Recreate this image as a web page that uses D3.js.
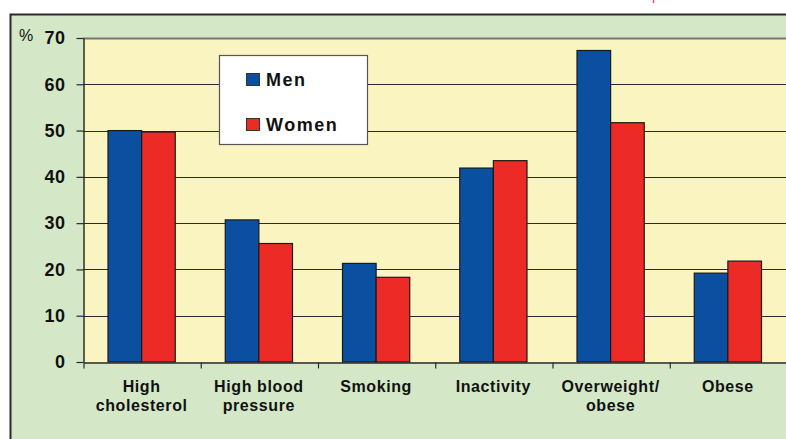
<!DOCTYPE html>
<html>
<head>
<meta charset="utf-8">
<script src="https://cdn.jsdelivr.net/npm/d3@7"></script>
<style>
  html, body { margin: 0; padding: 0; background: #ffffff; }
  svg { display: block; }
  text { font-family: Arial, "Liberation Sans", Helvetica, sans-serif; fill: #111; }
</style>
</head>
<body>
<svg id="chart" width="786" height="439"></svg>
<script>
// Prevalence of cardiovascular risk factors by sex (%)
const categories = [
  ["High", "cholesterol"],
  ["High blood", "pressure"],
  ["Smoking"],
  ["Inactivity"],
  ["Overweight/", "obese"],
  ["Obese"]
];
const seriesNames = ["Men", "Women"];
const menValues   = [50.0, 30.7, 21.3, 41.9, 67.3, 19.2];
const womenValues = [49.7, 25.6, 18.3, 43.5, 51.7, 21.8];
const yTicks = [0, 10, 20, 30, 40, 50, 60, 70];
const seriesColors = ["#0a4fa0", "#ec2a26"];

const svg = d3.select("#chart");

// outer panel
svg.append("rect")
  .attr("x", 10.5).attr("y", 14.5)
  .attr("width", 800).attr("height", 440)
  .attr("fill", "#d4e8c8")
  .attr("stroke", "#2a2a2a").attr("stroke-width", 2);

// small mark above the panel
svg.append("line")
  .attr("x1", 653.5).attr("x2", 653.5).attr("y1", 0).attr("y2", 3)
  .attr("stroke", "#e0508a").attr("stroke-width", 1.5);

const plot = { left: 83, right: 786.5, top: 38, bottom: 362 };

const y = d3.scaleLinear().domain([0, 70]).range([plot.bottom, plot.top]);
const x = d3.scaleBand()
  .domain(d3.range(categories.length))
  .range([plot.left, plot.right])
  .paddingInner(0).paddingOuter(0);
const xs = d3.scaleBand()
  .domain(seriesNames)
  .range([0, x.bandwidth()])
  .paddingInner(0).paddingOuter(0.744);

// plot background
svg.append("rect")
  .attr("x", plot.left).attr("y", plot.top)
  .attr("width", plot.right - plot.left).attr("height", plot.bottom - plot.top)
  .attr("fill", "#faf5c0");

// gridlines
svg.append("g")
  .selectAll("line")
  .data(yTicks.filter(t => t > 0))
  .join("line")
  .attr("x1", plot.left).attr("x2", plot.right)
  .attr("y1", d => Math.round(y(d)) + 0.5).attr("y2", d => Math.round(y(d)) + 0.5)
  .attr("stroke", d => d === 70 ? "#777" : "#2a2a2a")
  .attr("stroke-width", d => d === 70 ? 2 : 1.2);

// bars
const rows = categories.map((c, i) => ({ i, values: [menValues[i], womenValues[i]] }));
const groups = svg.append("g").selectAll("g")
  .data(rows)
  .join("g")
  .attr("transform", d => `translate(${x(d.i)},0)`);

groups.selectAll("rect")
  .data(d => d.values.map((v, k) => ({ name: seriesNames[k], value: v, k })))
  .join("rect")
  .attr("x", d => xs(d.name))
  .attr("width", xs.bandwidth())
  .attr("y", d => y(d.value))
  .attr("height", d => y(0) - y(d.value))
  .attr("fill", d => seriesColors[d.k])
  .attr("stroke", "#1a1a1a")
  .attr("stroke-width", 1.2);

// y axis
const yAxis = d3.axisLeft(y).tickValues(yTicks).tickSize(7).tickPadding(11).tickSizeOuter(0);
const gy = svg.append("g")
  .attr("transform", `translate(${plot.left + 0.5},0)`)
  .call(yAxis);
gy.select(".domain").attr("stroke", "#2a2a2a").attr("stroke-width", 1.5);
gy.selectAll(".tick line").attr("stroke", "#2a2a2a").attr("stroke-width", 1.2);
gy.selectAll(".tick text")
  .attr("font-size", 18).attr("font-weight", "bold")
  .attr("font-family", "Arial, 'Liberation Sans', sans-serif")
  .attr("letter-spacing", "0.5px")
  .attr("fill", "#111");

svg.append("text")
  .attr("x", 19).attr("y", 41)
  .attr("font-size", 16)
  .text("%");

// x axis
const xAxis = d3.axisBottom(
    d3.scaleLinear().domain([0, categories.length]).range([plot.left, plot.right]))
  .tickValues(d3.range(categories.length + 1))
  .tickSize(6).tickFormat("").tickSizeOuter(0);
const gx = svg.append("g")
  .attr("transform", `translate(0.5,${plot.bottom + 0.5})`)
  .call(xAxis);
gx.select(".domain").attr("stroke", "#2a2a2a").attr("stroke-width", 1.5);
gx.selectAll(".tick line").attr("stroke", "#2a2a2a").attr("stroke-width", 1.2);

// category labels
svg.append("g").selectAll("text")
  .data(categories)
  .join("text")
  .attr("x", (d, i) => x(i) + x.bandwidth() / 2)
  .attr("y", 392)
  .attr("text-anchor", "middle")
  .attr("font-size", 16).attr("font-weight", "bold")
  .attr("letter-spacing", "0.6px")
  .each(function(d) {
    d3.select(this).selectAll("tspan")
      .data(d)
      .join("tspan")
      .attr("x", d3.select(this).attr("x"))
      .attr("dy", (t, j) => j === 0 ? 0 : 18.5)
      .text(t => t);
  });

// legend
const legend = svg.append("g");
legend.append("rect")
  .attr("x", 219.5).attr("y", 55.5)
  .attr("width", 148).attr("height", 89)
  .attr("fill", "#ffffff")
  .attr("stroke", "#555").attr("stroke-width", 1.2);
const items = legend.selectAll("g")
  .data(seriesNames)
  .join("g")
  .attr("transform", (d, i) => `translate(246,${73 + i * 45})`);
items.append("rect")
  .attr("x", 0.5).attr("y", 0.5)
  .attr("width", 13).attr("height", 12)
  .attr("fill", (d, i) => seriesColors[i])
  .attr("stroke", "#333").attr("stroke-width", 1);
items.append("text")
  .attr("x", 20).attr("y", 12.8)
  .attr("font-size", 18).attr("font-weight", "bold")
  .attr("letter-spacing", "1.5px")
  .text(d => d);
</script>
</body>
</html>
